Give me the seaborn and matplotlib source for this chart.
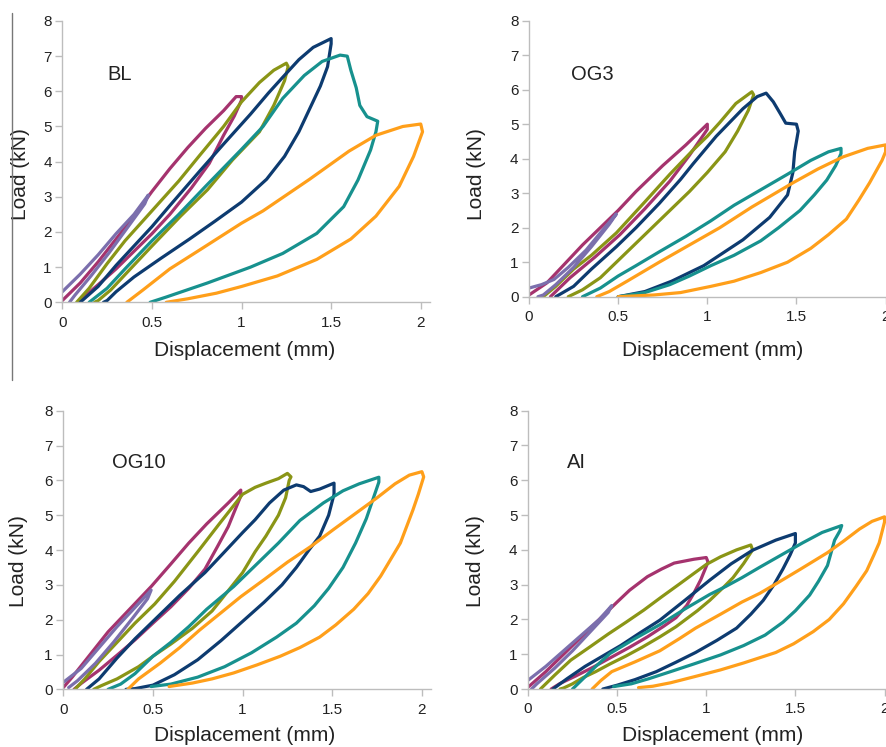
import pandas as pd
import matplotlib.pyplot as plt
from matplotlib.lines import Line2D
import seaborn as sns

# loading cycles (max displacement, mm) and their colours
cycles = ['0.5', '1.0', '1.25', '1.5', '1.75', '2.0']
colors = ['#7B6FAD', '#A5336E', '#8A9516', '#0D3B70', '#17918E', '#FF9F1A']

# (displacement mm, load kN), loading then unloading
bl_05 = [(0, 0.3), (0.1, 0.8), (0.2, 1.35), (0.3, 1.95), (0.4, 2.5), (0.48, 3.05), (0.46, 2.8), (0.36, 2.1),
         (0.26, 1.4), (0.16, 0.75), (0.07, 0.2), (0.04, 0)]
bl_10 = [(0, 0.05), (0.1, 0.55), (0.2, 1.15), (0.3, 1.8), (0.4, 2.45), (0.5, 3.15), (0.6, 3.8), (0.7, 4.4),
         (0.8, 4.95), (0.9, 5.45), (0.97, 5.85), (1.0, 5.85), (1.0, 5.75), (0.96, 5.3), (0.9, 4.75), (0.82, 3.95),
         (0.72, 3.25), (0.6, 2.5), (0.5, 1.95), (0.4, 1.45), (0.3, 0.95), (0.2, 0.5), (0.12, 0.15), (0.09, 0)]
bl_125 = [(0.08, 0), (0.15, 0.4), (0.25, 1.1), (0.35, 1.75), (0.5, 2.6), (0.65, 3.45), (0.77, 4.2), (0.9, 5.0),
          (1.0, 5.7), (1.1, 6.25), (1.18, 6.6), (1.25, 6.8), (1.26, 6.7), (1.24, 6.3), (1.18, 5.6), (1.1, 4.85),
          (0.95, 4.05), (0.81, 3.2), (0.66, 2.45), (0.5, 1.6), (0.38, 0.95), (0.27, 0.35), (0.2, 0.05), (0.18, 0)]
bl_15 = [(0.1, 0), (0.2, 0.45), (0.3, 1.05), (0.4, 1.6), (0.5, 2.15), (0.6, 2.75), (0.77, 3.75), (0.9, 4.5),
         (1.05, 5.35), (1.15, 5.95), (1.23, 6.4), (1.32, 6.9), (1.4, 7.25), (1.5, 7.5), (1.5, 7.35), (1.48, 6.7),
         (1.44, 6.15), (1.38, 5.5), (1.32, 4.85), (1.24, 4.15), (1.14, 3.5), (1.0, 2.85), (0.85, 2.3), (0.71, 1.8),
         (0.55, 1.25), (0.4, 0.72), (0.3, 0.3), (0.25, 0.05), (0.23, 0)]
bl_175 = [(0.15, 0), (0.25, 0.4), (0.35, 0.95), (0.5, 1.75), (0.65, 2.5), (0.8, 3.3), (1.0, 4.35), (1.12, 5.0),
          (1.23, 5.8), (1.35, 6.45), (1.45, 6.85), (1.55, 7.03), (1.59, 7.0), (1.61, 6.6), (1.64, 6.1), (1.66, 5.6),
          (1.7, 5.28), (1.76, 5.15), (1.75, 4.85), (1.72, 4.33), (1.65, 3.48), (1.57, 2.72), (1.42, 1.96),
          (1.23, 1.39), (1.05, 1.0), (0.81, 0.55), (0.58, 0.15), (0.49, 0)]
bl_20 = [(0.36, 0), (0.45, 0.35), (0.6, 0.95), (0.77, 1.5), (1.0, 2.25), (1.12, 2.6), (1.38, 3.5), (1.6, 4.3),
         (1.75, 4.75), (1.9, 5.0), (2.0, 5.07), (2.01, 4.85), (1.96, 4.15), (1.88, 3.3), (1.75, 2.45), (1.61, 1.8),
         (1.42, 1.22), (1.2, 0.75), (1.0, 0.45), (0.86, 0.26), (0.7, 0.1), (0.58, 0)]

og3_05 = [(0, 0.25), (0.07, 0.35), (0.14, 0.5), (0.22, 0.85), (0.32, 1.35), (0.4, 1.85), (0.49, 2.4), (0.45, 2.1),
          (0.35, 1.45), (0.25, 0.85), (0.15, 0.35), (0.08, 0.05), (0.05, 0)]
og3_10 = [(0, 0.05), (0.1, 0.4), (0.2, 0.95), (0.3, 1.5), (0.4, 2.0), (0.5, 2.5), (0.6, 3.05), (0.75, 3.8),
          (0.88, 4.4), (1.0, 5.0), (1.0, 4.85), (0.9, 4.1), (0.79, 3.35), (0.65, 2.55), (0.51, 1.8), (0.37, 1.15),
          (0.23, 0.55), (0.15, 0.15), (0.12, 0)]
og3_125 = [(0.08, 0), (0.15, 0.3), (0.25, 0.8), (0.35, 1.2), (0.49, 1.85), (0.65, 2.75), (0.79, 3.55), (0.92, 4.25),
           (1.0, 4.65), (1.07, 5.05), (1.16, 5.6), (1.25, 5.94), (1.26, 5.85), (1.23, 5.4), (1.17, 4.8), (1.1, 4.2),
           (1.0, 3.6), (0.9, 3.05), (0.75, 2.3), (0.62, 1.65), (0.5, 1.05), (0.4, 0.55), (0.3, 0.2), (0.22, 0)]
og3_15 = [(0.15, 0), (0.25, 0.3), (0.35, 0.8), (0.49, 1.45), (0.6, 2.0), (0.73, 2.7), (0.85, 3.4), (0.92, 3.85),
          (1.05, 4.65), (1.2, 5.45), (1.28, 5.8), (1.33, 5.9), (1.37, 5.65), (1.41, 5.3), (1.44, 5.03), (1.5, 5.0),
          (1.51, 4.8), (1.49, 4.2), (1.48, 3.6), (1.45, 2.95), (1.35, 2.3), (1.2, 1.65), (0.98, 0.9), (0.8, 0.45),
          (0.65, 0.15), (0.5, 0)]
og3_175 = [(0.3, 0), (0.4, 0.25), (0.5, 0.6), (0.6, 0.9), (0.73, 1.3), (0.88, 1.75), (1.02, 2.2), (1.15, 2.65),
           (1.3, 3.1), (1.45, 3.55), (1.58, 3.95), (1.68, 4.2), (1.75, 4.3), (1.75, 4.15), (1.72, 3.8), (1.67, 3.38),
           (1.6, 2.95), (1.52, 2.5), (1.4, 2.0), (1.3, 1.62), (1.15, 1.2), (1.02, 0.9), (0.9, 0.6), (0.79, 0.35),
           (0.65, 0.12), (0.5, 0)]
og3_20 = [(0.38, 0), (0.45, 0.15), (0.55, 0.45), (0.73, 1.0), (0.9, 1.5), (1.07, 2.0), (1.25, 2.6), (1.48, 3.3),
          (1.62, 3.7), (1.76, 4.05), (1.9, 4.3), (2.0, 4.4), (2.0, 4.2), (1.98, 3.95), (1.91, 3.3), (1.85, 2.8),
          (1.78, 2.25), (1.68, 1.8), (1.58, 1.4), (1.45, 1.0), (1.3, 0.7), (1.15, 0.45), (1.02, 0.3), (0.85, 0.12),
          (0.7, 0.05), (0.5, 0)]

og10_05 = [(0, 0.2), (0.1, 0.6), (0.2, 1.2), (0.3, 1.8), (0.4, 2.35), (0.49, 2.85), (0.47, 2.6), (0.38, 2.0),
           (0.28, 1.35), (0.18, 0.75), (0.08, 0.25), (0.03, 0.05)]
og10_10 = [(0, 0.05), (0.05, 0.35), (0.15, 1.0), (0.25, 1.65), (0.37, 2.3), (0.49, 2.95), (0.6, 3.6), (0.7, 4.2),
           (0.8, 4.75), (0.92, 5.35), (0.99, 5.72), (0.99, 5.55), (0.95, 5.05), (0.92, 4.67), (0.86, 4.1),
           (0.79, 3.45), (0.7, 2.9), (0.6, 2.37), (0.5, 1.9), (0.4, 1.42), (0.3, 0.98), (0.2, 0.55), (0.1, 0.17),
           (0.06, 0)]
og10_125 = [(0.065, 0), (0.12, 0.3), (0.2, 0.8), (0.3, 1.35), (0.4, 1.9), (0.51, 2.45), (0.62, 3.1), (0.75, 3.95),
            (0.87, 4.75), (1.0, 5.6), (1.07, 5.8), (1.13, 5.92), (1.2, 6.05), (1.25, 6.2), (1.27, 6.1), (1.26, 6.0),
            (1.24, 5.5), (1.2, 5.0), (1.13, 4.4), (1.07, 3.95), (1.0, 3.35), (0.9, 2.7), (0.83, 2.25), (0.72, 1.75),
            (0.6, 1.3), (0.5, 0.95), (0.42, 0.65), (0.3, 0.3), (0.21, 0.1), (0.17, 0)]
og10_15 = [(0.13, 0), (0.2, 0.3), (0.3, 0.9), (0.4, 1.45), (0.51, 2.0), (0.65, 2.7), (0.79, 3.35), (0.9, 3.95),
           (1.0, 4.5), (1.07, 4.87), (1.15, 5.35), (1.23, 5.72), (1.3, 5.87), (1.34, 5.82), (1.38, 5.68),
           (1.43, 5.75), (1.51, 5.92), (1.51, 5.6), (1.48, 5.0), (1.43, 4.4), (1.37, 4.0), (1.3, 3.5), (1.22, 3.0),
           (1.12, 2.5), (1.0, 1.95), (0.88, 1.4), (0.75, 0.85), (0.62, 0.42), (0.5, 0.12), (0.4, 0.02), (0.35, 0)]
og10_175 = [(0.25, 0), (0.32, 0.15), (0.4, 0.45), (0.5, 0.95), (0.6, 1.35), (0.7, 1.8), (0.8, 2.3), (0.95, 2.95),
            (1.07, 3.55), (1.2, 4.2), (1.32, 4.85), (1.45, 5.35), (1.56, 5.7), (1.65, 5.9), (1.76, 6.09),
            (1.76, 5.95), (1.73, 5.5), (1.69, 4.9), (1.63, 4.2), (1.56, 3.5), (1.48, 2.9), (1.4, 2.4), (1.3, 1.9),
            (1.19, 1.5), (1.05, 1.05), (0.9, 0.65), (0.75, 0.35), (0.6, 0.15), (0.49, 0.08)]
og10_20 = [(0.36, 0), (0.42, 0.3), (0.54, 0.75), (0.65, 1.2), (0.76, 1.7), (0.88, 2.2), (0.99, 2.66), (1.12, 3.15),
           (1.25, 3.65), (1.38, 4.1), (1.51, 4.6), (1.63, 5.05), (1.75, 5.5), (1.85, 5.9), (1.93, 6.15), (2.0, 6.25),
           (2.01, 6.1), (1.98, 5.6), (1.95, 5.15), (1.88, 4.2), (1.77, 3.25), (1.7, 2.75), (1.62, 2.3), (1.52, 1.85),
           (1.43, 1.5), (1.32, 1.2), (1.21, 0.95), (1.08, 0.7), (0.95, 0.47), (0.83, 0.3), (0.72, 0.18), (0.59, 0.08)]

ai_05 = [(0, 0.25), (0.1, 0.65), (0.2, 1.1), (0.3, 1.55), (0.4, 2.0), (0.47, 2.4), (0.45, 2.2), (0.35, 1.65),
         (0.25, 1.1), (0.15, 0.6), (0.05, 0.15), (0.02, 0)]
ai_10 = [(0, 0.05), (0.1, 0.5), (0.2, 1.0), (0.3, 1.5), (0.4, 2.0), (0.5, 2.5), (0.57, 2.84), (0.67, 3.23),
         (0.75, 3.45), (0.82, 3.62), (0.93, 3.73), (1.0, 3.78), (1.01, 3.65), (0.97, 3.15), (0.93, 2.75), (0.89, 2.4),
         (0.83, 2.05), (0.76, 1.8), (0.67, 1.5), (0.57, 1.2), (0.47, 0.92), (0.37, 0.64), (0.27, 0.38), (0.18, 0.16),
         (0.13, 0)]
ai_125 = [(0.07, 0), (0.15, 0.4), (0.24, 0.83), (0.35, 1.22), (0.45, 1.58), (0.55, 1.92), (0.65, 2.27), (0.75, 2.65),
          (0.85, 3.02), (0.93, 3.32), (1.0, 3.58), (1.08, 3.8), (1.17, 4.0), (1.25, 4.14), (1.26, 4.0), (1.21, 3.61),
          (1.15, 3.2), (1.1, 2.94), (1.02, 2.55), (0.95, 2.25), (0.83, 1.79), (0.74, 1.5), (0.64, 1.2), (0.55, 0.95),
          (0.46, 0.72), (0.38, 0.5), (0.31, 0.33), (0.25, 0.15), (0.2, 0.03), (0.18, 0)]
ai_15 = [(0.14, 0), (0.22, 0.3), (0.32, 0.65), (0.42, 0.95), (0.52, 1.25), (0.63, 1.62), (0.74, 1.98), (0.88, 2.55),
         (1.02, 3.13), (1.14, 3.6), (1.26, 3.99), (1.39, 4.28), (1.5, 4.47), (1.5, 4.2), (1.47, 3.85), (1.43, 3.45),
         (1.38, 3.0), (1.32, 2.55), (1.25, 2.15), (1.17, 1.75), (1.06, 1.4), (0.94, 1.05), (0.83, 0.77), (0.72, 0.5),
         (0.6, 0.27), (0.5, 0.11), (0.42, 0)]
ai_175 = [(0.25, 0), (0.3, 0.25), (0.38, 0.65), (0.46, 1.02), (0.6, 1.45), (0.74, 1.85), (0.88, 2.3), (1.02, 2.72),
          (1.11, 2.95), (1.2, 3.2), (1.3, 3.5), (1.42, 3.85), (1.54, 4.2), (1.65, 4.5), (1.76, 4.7), (1.75, 4.55),
          (1.72, 4.28), (1.68, 3.55), (1.63, 3.1), (1.58, 2.7), (1.5, 2.25), (1.43, 1.92), (1.33, 1.55), (1.21, 1.25),
          (1.08, 0.98), (0.93, 0.72), (0.8, 0.5), (0.68, 0.3), (0.58, 0.15), (0.48, 0.07)]
ai_20 = [(0.36, 0), (0.41, 0.25), (0.47, 0.5), (0.6, 0.78), (0.74, 1.1), (0.85, 1.45), (0.94, 1.75), (1.08, 2.15),
         (1.2, 2.5), (1.3, 2.75), (1.39, 3.02), (1.53, 3.45), (1.68, 3.92), (1.77, 4.25), (1.86, 4.6), (1.93, 4.82),
         (2.0, 4.95), (2.0, 4.8), (1.97, 4.2), (1.94, 3.85), (1.9, 3.4), (1.84, 2.95), (1.77, 2.45), (1.69, 2.0),
         (1.6, 1.65), (1.49, 1.3), (1.39, 1.05), (1.21, 0.75), (1.08, 0.55), (0.93, 0.35), (0.8, 0.18), (0.7, 0.08),
         (0.62, 0.04)]

panels = {
    'BL': [bl_05, bl_10, bl_125, bl_15, bl_175, bl_20],
    'OG3': [og3_05, og3_10, og3_125, og3_15, og3_175, og3_20],
    'OG10': [og10_05, og10_10, og10_125, og10_15, og10_175, og10_20],
    'AI': [ai_05, ai_10, ai_125, ai_15, ai_175, ai_20],
}

rows = []
for name, loops in panels.items():
    for cyc, pts in zip(cycles, loops):
        for x, y in pts:
            rows.append((name, cyc, x, y))
df = pd.DataFrame(rows, columns=['panel', 'cycle', 'disp', 'load'])

sns.set_style('white')
plt.rcParams['font.family'] = ['Liberation Sans', 'DejaVu Sans']

fig = plt.figure(figsize=(8.86, 7.47), dpi=100)

# axes rectangles, label spots
layout = {
    'BL':   dict(rect=[0.0703, 0.5953, 0.4147, 0.3766], tx=0.25, ty=6.47, ylab=(-0.088, 0.456), xlab=(0.495, -0.138)),
    'OG3':  dict(rect=[0.5971, 0.6028, 0.4125, 0.3695], tx=0.237, ty=6.45, ylab=(-0.118, 0.445), xlab=(0.503, -0.16)),
    'OG10': dict(rect=[0.0714, 0.0772, 0.4149, 0.3730], tx=0.27, ty=6.5, ylab=(-0.096, 0.46), xlab=(0.494, -0.132)),
    'AI':   dict(rect=[0.5959, 0.0776, 0.4125, 0.3726], tx=0.219, ty=6.52, ylab=(-0.118, 0.46), xlab=(0.506, -0.133)),
}

draw_order = ['1.0', '1.25', '1.5', '1.75', '2.0', '0.5']
pal = dict(zip(cycles, colors))
grey = '#BDBDBD'

for name, lay in layout.items():
    ax = fig.add_axes(lay['rect'])
    sub = df[df['panel'] == name]
    sns.lineplot(data=sub, x='disp', y='load', hue='cycle', hue_order=draw_order, palette=pal,
                 sort=False, estimator=None, legend=False, linewidth=2.3, ax=ax)
    ax.set_xlim(0, 2.05)
    ax.set_ylim(0, 8)
    ax.set_xticks([0, 0.5, 1, 1.5, 2])
    ax.set_xticklabels(['0', '0.5', '1', '1.5', '2'])
    ax.set_yticks(range(9))
    for s in ['top', 'right']:
        ax.spines[s].set_visible(False)
    for s in ['left', 'bottom']:
        ax.spines[s].set_color(grey)
        ax.spines[s].set_linewidth(1)
    ax.tick_params(axis='y', length=5, width=1, color=grey, pad=2.5, labelsize=11, labelcolor='#222222', left=True)
    ax.tick_params(axis='x', length=5, width=1, color=grey, pad=4.5, labelsize=11, labelcolor='#222222', bottom=True)
    ax.set_xlabel('Displacement (mm)', fontsize=15, color='#222222')
    ax.set_ylabel('Load (kN)', fontsize=15, color='#222222')
    ax.yaxis.set_label_coords(*lay['ylab'])
    ax.xaxis.set_label_coords(*lay['xlab'])
    ax.text(lay['tx'], lay['ty'], name, fontsize=14.5, color='#222222', ha='left', va='center')
    ax.grid(False)

# thin rule at the left edge of the page
fig.add_artist(Line2D([12.3 / 886, 12.3 / 886], [1 - 13 / 747, 1 - 380 / 747],
                      transform=fig.transFigure, color='#777777', linewidth=1))

fig.savefig('out.png', dpi=100)
